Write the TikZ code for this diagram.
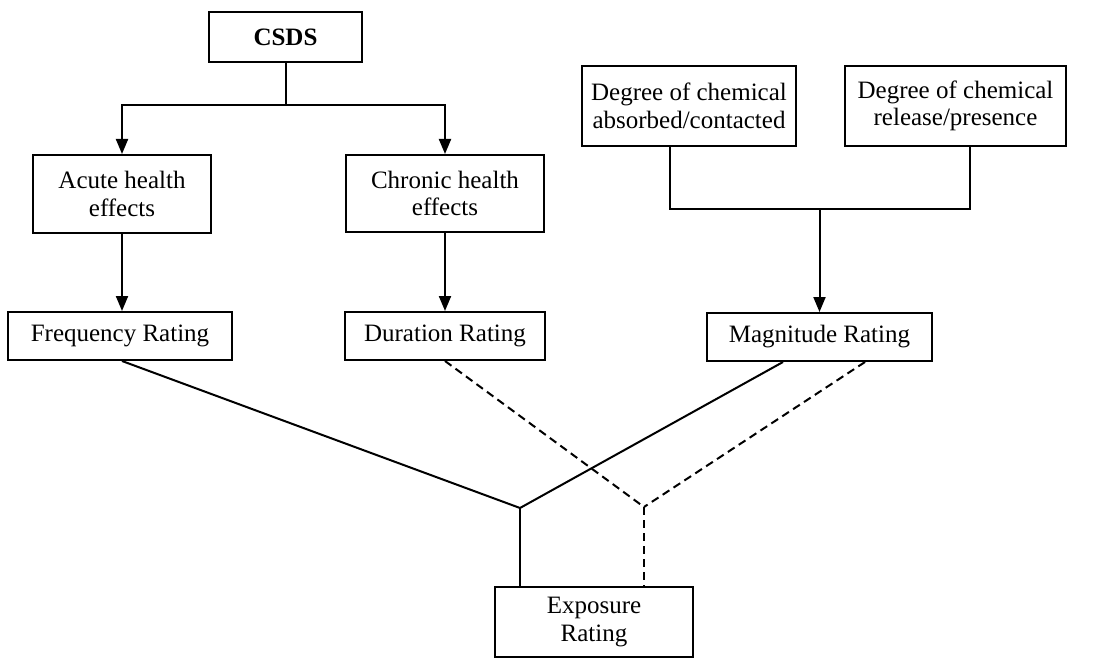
\documentclass[tikz,border=0pt]{standalone}
\usepackage{fontspec}
\setmainfont{Liberation Serif}
\usetikzlibrary{arrows.meta}
\begin{document}
\begin{tikzpicture}[x=1pt,y=-1pt,
  box/.style={draw,line width=2pt,inner sep=0pt,align=center,
    font=\fontsize{25}{27.5}\selectfont},
  conn/.style={line width=2pt},
  arr/.style={conn,-{Triangle[length=15pt,width=12pt]}},
  dsh/.style={conn,dash pattern=on 8pt off 5pt}]
\useasboundingbox (0,0) rectangle (1095,663);
% boxes
\node[box,minimum width=153pt,minimum height=50pt,font=\fontsize{25}{27.5}\selectfont\bfseries] (csds) at (285.5,37) {CSDS};
\node[box,minimum width=178pt,minimum height=78pt] (acute) at (122,194) {Acute health\\effects};
\node[box,minimum width=198pt,minimum height=77pt] (chronic) at (445,193.5) {Chronic health\\effects};
\node[box,minimum width=224pt,minimum height=48pt] (freq) at (120,336) {Frequency Rating};
\node[box,minimum width=200pt,minimum height=48pt] (dur) at (445,336) {Duration Rating};
\node[box,minimum width=225pt,minimum height=48pt] (mag) at (819.5,337) {Magnitude Rating};
\node[box,minimum width=214pt,minimum height=80pt] (deg1) at (689,106) {Degree of chemical\\absorbed/contacted};
\node[box,minimum width=221pt,minimum height=80pt] (deg2) at (955.5,106) {Degree of chemical\\release/presence};
\node[box,minimum width=198pt,minimum height=70pt] (expo) at (594,622) {Exposure\\Rating};
% junctions
\coordinate (cj) at (285.5,105);
\coordinate (mj) at (819.5,209);
\coordinate (js) at (520,508);
\coordinate (jd) at (644,507);
% CSDS tree
\draw[conn] (csds.south) -- (cj);
\draw[arr] (cj) -| (acute.north);
\draw[arr] (cj) -| (chronic.north);
\draw[arr] (acute.south) -- (acute.south |- freq.north);
\draw[arr] (chronic.south) -- (chronic.south |- dur.north);
% degree tree
\draw[conn] ([xshift=-19pt]deg1.south) |- (mj);
\draw[conn] ([xshift=14.5pt]deg2.south) |- (mj);
\draw[arr] (mj) -- (mag.north);
% to exposure
\draw[conn] ([xshift=2pt]freq.south) -- (js);
\draw[conn] ([xshift=-36.5pt]mag.south) -- (js);
\draw[conn] (js) -- (js |- expo.north);
\draw[dsh] (dur.south) -- (jd);
\draw[dsh] ([xshift=45.5pt]mag.south) -- (jd);
\draw[dsh] (jd) -- (jd |- expo.north);
\end{tikzpicture}
\end{document}
